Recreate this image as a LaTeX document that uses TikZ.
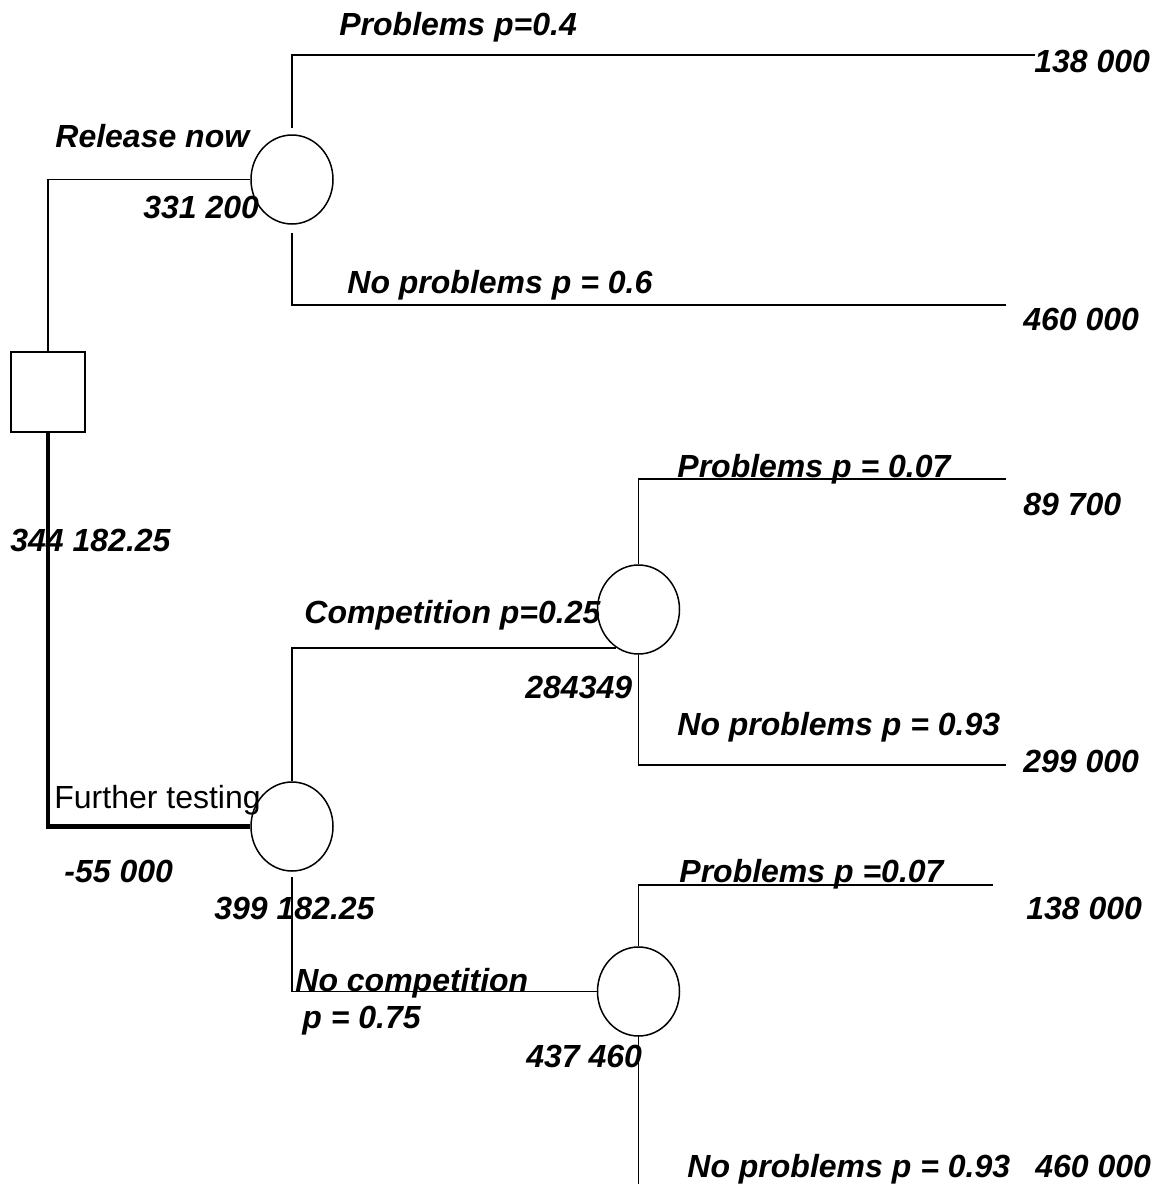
\documentclass[tikz,border=0pt]{standalone}
\usepackage{fontspec}
\setmainfont{Liberation Sans}
\usetikzlibrary{shapes.geometric}
\tikzset{
	chance/.style={draw, ellipse, line width=0.75pt, minimum width=41pt, minimum height=44.5pt, inner sep=0pt},
	choice/.style={draw, rectangle, line width=0.75pt, minimum width=37pt, minimum height=40pt, inner sep=0pt},
	link/.style={line width=0.9pt},
	mainlink/.style={line width=2.4pt},
	lbl/.style={font=\fontsize{16}{19}\selectfont\bfseries\itshape, inner sep=0pt, anchor=base west},
	plainlbl/.style={font=\fontsize{16}{19}\selectfont, inner sep=0pt, anchor=base west}
}

\begin{document}
\begin{tikzpicture}[x=0.5pt, y=-0.5pt]
			\useasboundingbox (0,0) rectangle (1159,1184);
			\node[choice] (dec) at (48,392) {};
			\node[chance] (rel) at (292,179.5) {};
			\node[chance] (test) at (292,826.5) {};
			\node[chance] (comp) at (638.5,609.5) {};
			\node[chance] (nocomp) at (638.5,991.5) {};
			\coordinate (relP) at (1035,55);
			\coordinate (relN) at (1006,305);
			\coordinate (compP) at (1006,479);
			\coordinate (compN) at (1006,765);
			\coordinate (nocompP) at (993,885);
			\coordinate (nocompN) at (638.5,1184);
			\draw[link] (dec.north) |- (rel.west);
			\draw[link, shorten <=3pt] (rel.north) |- (relP);
			\draw[link, shorten <=4pt] (rel.south) |- (relN);
			\draw[mainlink] (dec.south) |- (test.west);
			\draw[link] (test.north) |- (comp.240);
			\draw[link, shorten <=2.5pt] (test.south) |- (nocomp.west);
			\draw[link] (comp.north) |- (compP);
			\draw[link] (comp.south) |- (compN);
			\draw[link] (nocomp.north) |- (nocompP);
			\draw[link] (nocomp.south) -- (nocompN);
			\node[lbl] (relPl) at (339,35) {Problems p=0.4};
			\node[lbl] (relNl) at (347,293) {No problems p = 0.6};
			\node[lbl] (relv) at (1034,72) {138 000};
			\node[lbl] (relnv) at (1023,330) {460 000};
			\node[lbl] (rell) at (55,147) {Release now};
			\node[lbl] (relev) at (143,218) {331 200};
			\node[lbl] (decv) at (10,551) {344 182.25};
			\node[plainlbl] (testl) at (54,808) {Further testing};
			\node[lbl] (testc) at (64,882) {-55 000};
			\node[lbl] (testv) at (214,919) {399 182.25};
			\node[lbl] (compl) at (304,623) {Competition p=0.25};
			\node[lbl] (compv) at (525,698) {284349};
			\node[lbl] (compPl) at (677,477) {Problems p = 0.07};
			\node[lbl] (compPv) at (1023,515) {89 700};
			\node[lbl] (compNl) at (677,735) {No problems p = 0.93};
			\node[lbl] (compNv) at (1023,772) {299 000};
			\node[lbl] (nocompl) at (295,991) {No competition};
			\node[lbl] (nocompp) at (302,1028) {p = 0.75};
			\node[lbl] (nocompv) at (526,1067) {437 460};
			\node[lbl] (nocompPl) at (679,882) {Problems p =0.07};
			\node[lbl] (nocompPv) at (1026,919) {138 000};
			\node[lbl] (nocompNl) at (687,1177) {No problems p = 0.93};
			\node[lbl] (nocompNv) at (1035,1177) {460 000};
		\end{tikzpicture}
\end{document}
